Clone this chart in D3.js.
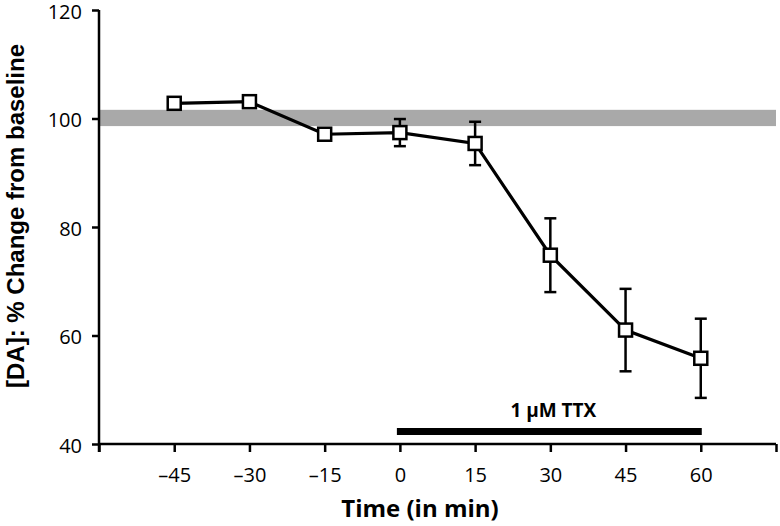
<!DOCTYPE html>
<html>
<head>
<meta charset="utf-8">
<script src="https://cdn.jsdelivr.net/npm/d3@7/dist/d3.min.js"></script>
<style>
  html, body { margin: 0; padding: 0; background: #fff; }
  svg { display: block; }
  text { font-family: "Open Sans", sans-serif; }
</style>
</head>
<body>
<svg id="chart" width="780" height="526"></svg>
<script>
// Data
const times = [-45, -30, -15, 0, 15, 30, 45, 60];
const values = [102.8, 103.1, 97.1, 97.4, 95.4, 74.8, 61.0, 55.8];
const errors = [1.0, 0.5, 0.6, 2.5, 4.0, 6.8, 7.6, 7.3];
const xTickValues = [-60, -45, -30, -15, 0, 15, 30, 45, 60, 75];
const xTickLabels = [-45, -30, -15, 0, 15, 30, 45, 60];
const yTickValues = [40, 60, 80, 100, 120];
const baselineBand = [98.6, 101.6];
const treatment = { label: "1 μM TTX", start: 0, end: 60 };

const svg = d3.select("#chart");

const x = d3.scaleLinear().domain([-60, 75]).range([99, 776]);
const y = d3.scaleLinear().domain([40, 120]).range([444, 10]);

// baseline band
svg.append("rect")
  .attr("x", x(-60))
  .attr("width", x(75) - x(-60))
  .attr("y", y(baselineBand[1]))
  .attr("height", y(baselineBand[0]) - y(baselineBand[1]))
  .attr("fill", "#a9a9a9");

// axes
const fmt = d => (d < 0 ? "\u2013" + Math.abs(d) : String(d));
const xAxis = svg.append("g")
  .attr("transform", `translate(0,${y(40)})`)
  .call(d3.axisBottom(x).tickValues(xTickValues).tickSize(8)
    .tickFormat(d => xTickLabels.includes(d) ? fmt(d) : ""));
const yAxis = svg.append("g")
  .attr("transform", `translate(${x(-60)},0)`)
  .call(d3.axisLeft(y).tickValues(yTickValues).tickSize(7).tickPadding(10));

[xAxis, yAxis].forEach(g => {
  g.select(".domain").attr("stroke", "#000").attr("stroke-width", 2.5);
  g.selectAll(".tick line").attr("stroke", "#000").attr("stroke-width", 2.5);
  g.selectAll(".tick text").attr("fill", "#000")
    .style("font-family", "'Open Sans', sans-serif").style("font-size", "20px");
});
xAxis.select(".domain").attr("d", `M${x(-60)},0H${x(75)}`);
yAxis.select(".domain").attr("d", `M0,${y(120)}V${y(40) + 8}`);
xAxis.selectAll(".tick text").attr("y", 38).attr("dy", "0");
yAxis.selectAll(".tick text").attr("dy", "0.42em");

// line
const line = d3.line().x((d, i) => x(times[i])).y(d => y(d));
svg.append("path")
  .datum(values)
  .attr("d", line)
  .attr("fill", "none")
  .attr("stroke", "#000")
  .attr("stroke-width", 3.2);

// error bars
const eb = svg.append("g").attr("stroke", "#000").attr("stroke-width", 2.5);
values.forEach((v, i) => {
  const cx = x(times[i]);
  const e = errors[i];
  if (e < 1.2) return;
  eb.append("line").attr("x1", cx).attr("x2", cx).attr("y1", y(v + e)).attr("y2", y(v - e));
  eb.append("line").attr("x1", cx - 6).attr("x2", cx + 6).attr("y1", y(v + e)).attr("y2", y(v + e));
  eb.append("line").attr("x1", cx - 6).attr("x2", cx + 6).attr("y1", y(v - e)).attr("y2", y(v - e));
});

// markers
const ms = 13;
svg.append("g").selectAll("rect")
  .data(values)
  .join("rect")
  .attr("x", (d, i) => x(times[i]) - ms / 2)
  .attr("y", d => y(d) - ms / 2)
  .attr("width", ms)
  .attr("height", ms)
  .attr("fill", "#fff")
  .attr("stroke", "#000")
  .attr("stroke-width", 2.5);

// treatment bar
svg.append("line")
  .attr("x1", x(treatment.start) - 3)
  .attr("x2", x(treatment.end) + 1)
  .attr("y1", 431.5).attr("y2", 431.5)
  .attr("stroke", "#000").attr("stroke-width", 7);
svg.append("text")
  .attr("x", (x(treatment.start) + x(treatment.end)) / 2 + 3)
  .attr("y", 417)
  .attr("text-anchor", "middle")
  .style("font-size", "19px").style("font-weight", "bold")
  .text(treatment.label);

// axis titles
svg.append("text")
  .attr("x", 420)
  .attr("y", 517)
  .attr("text-anchor", "middle")
  .style("font-size", "24px").style("font-weight", "bold")
  .text("Time (in min)");
svg.append("text")
  .attr("transform", `translate(24,216) rotate(-90)`)
  .attr("text-anchor", "middle")
  .style("font-family", "'Liberation Sans', Arial, sans-serif")
  .style("font-size", "24px").style("font-weight", "bold")
  .text("[DA]: % Change from baseline");
</script>
</body>
</html>
